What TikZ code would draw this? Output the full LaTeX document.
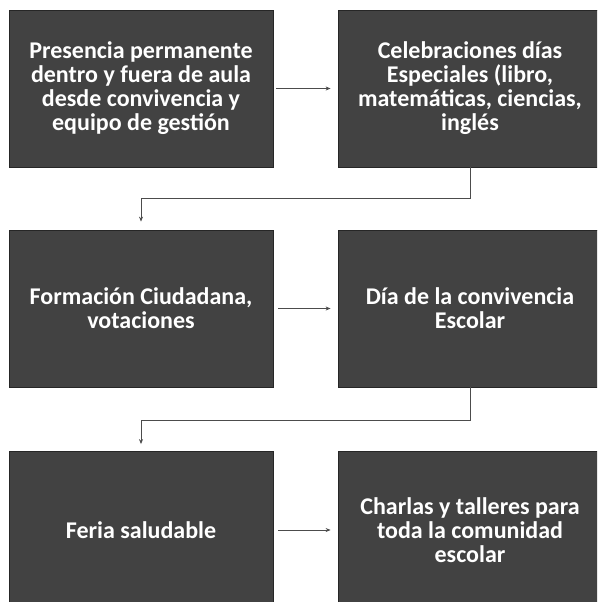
\documentclass[tikz,border=0pt]{standalone}
\usepackage{fontspec}
\setmainfont{Carlito}
\usetikzlibrary{arrows.meta}
\begin{document}
\begin{tikzpicture}[x=1pt,y=-1pt,
  box/.style={draw=black!85,line width=0.8pt,fill=black!74,text=white,
    minimum width=264pt,minimum height=157pt,inner sep=0pt,align=center,
    font=\bfseries\fontsize{24}{24}\selectfont},
  conn/.style={draw=black!70,line width=0.7pt,-{Stealth[length=5pt,width=4pt]}}]
\useasboundingbox (0,0) rectangle (597,602);
\clip (0,0) rectangle (597,602);
\fill[white] (0,0) rectangle (597,602);
\node[box] (b1) at (141,88.5) {Presencia permanente\\dentro y fuera de aula\\desde convivencia y\\equipo de gestión};
\node[box] (b2) at (470,88.5) {Celebraciones días\\Especiales (libro,\\matemáticas, ciencias,\\inglés};
\node[box] (b3) at (141,308.5) {Formación Ciudadana,\\votaciones};
\node[box] (b4) at (470,308.5) {Día de la convivencia\\Escolar};
\node[box] (b5) at (141,530) {Feria saludable};
\node[box] (b6) at (470,530) {Charlas y talleres para\\toda la comunidad\\escolar};
\coordinate (m1) at (0,198);
\coordinate (m2) at (0,420);
\draw[conn,shorten <=3pt,shorten >=7pt] (b1.east) -- (b2.west);
\draw[conn,shorten <=5pt,shorten >=7pt] (b3.east) -- (b4.west);
\draw[conn,shorten <=5pt,shorten >=7pt] (b5.east) -- (b6.west);
\draw[conn,shorten >=8pt] (b2.south) |- (b3.north |- m1) -- (b3.north);
\draw[conn,shorten >=7pt] (b4.south) |- (b5.north |- m2) -- (b5.north);
\end{tikzpicture}
\end{document}
